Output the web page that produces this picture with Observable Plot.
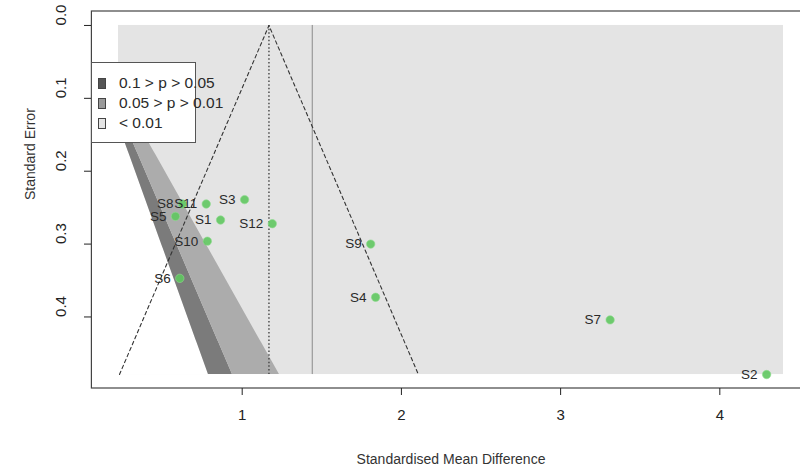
<!DOCTYPE html>
<html><head><meta charset="utf-8">
<script src="https://cdn.jsdelivr.net/npm/d3@7"></script>
<script src="https://cdn.jsdelivr.net/npm/@observablehq/plot@0.6"></script>
<style>
body{margin:0;background:#fff;font-family:"Liberation Sans",Arial,sans-serif;}
#wrap{position:relative;width:800px;height:467px;overflow:hidden;}
#legend{position:absolute;left:91px;top:62px;width:105px;height:81px;background:#fff;border:1px solid #555;box-sizing:border-box;font-size:15.5px;color:#2a2a2a;}
.row{position:absolute;left:6px;white-space:nowrap;line-height:18px;}
.sw{display:inline-block;width:6px;height:9px;border:1px solid #444;margin-right:13px;vertical-align:-1px;}
</style></head>
<body><div id="wrap"></div>
<script>
// Study data
const studies = ["S1","S2","S3","S4","S5","S6","S7","S8","S9","S10","S11","S12"];
const smd     = [0.864, 4.294, 1.015, 1.838, 0.581, 0.608, 3.311, 0.625, 1.807, 0.781, 0.774, 1.189];
const se      = [0.267, 0.479, 0.239, 0.373, 0.262, 0.347, 0.404, 0.245, 0.300, 0.296, 0.245, 0.272];

const xTicks = [1, 2, 3, 4];
const yTicks = [0, 0.1, 0.2, 0.3, 0.4];
const legendLabels = ["0.1 > p > 0.05", "0.05 > p > 0.01", "< 0.01"];
const contourZ = [1.645, 1.96, 2.576];           // p = 0.10, 0.05, 0.01
const shadeColors = ["#7b7b7b", "#acacac", "#e4e4e4"];
const pooledEstimate = 1.168;
const secondLine = 1.44;
const xLimits = [0.223, 4.40];

const seMax = d3.max(se);
const rx = xLimits[1] - xLimits[0];
const xDom = [xLimits[0] - 0.04 * rx, xLimits[1] + 0.04 * rx];
const yDom = [-0.04 * seMax, seMax * 1.04];

const data = studies.map((s, i) => ({study: s, smd: smd[i], se: se[i]}));
const seSamples = d3.range(0, 101).map(t => t / 100 * seMax);
const clampX = v => Math.max(xLimits[0], Math.min(xLimits[1], v));

const funnel = [
  {x: pooledEstimate - 1.96 * seMax, y: seMax},
  {x: pooledEstimate, y: 0},
  {x: pooledEstimate + 1.96 * seMax, y: seMax}
];

const chart = Plot.plot({
  width: 800, height: 467,
  marginLeft: 91, marginTop: 11, marginBottom: 79, marginRight: 0,
  style: {fontFamily: "Liberation Sans, Arial, sans-serif", fontSize: "15px", color: "#222", background: "#fff"},
  x: {domain: xDom, range: [91.4, 809.6]},
  y: {domain: yDom, range: [11, 388]},
  marks: [
    // background (p < 0.01 region)
    Plot.rect([0], {x1: xLimits[0], x2: xLimits[1], y1: 0, y2: seMax, fill: shadeColors[2]}),
    // non-significant region (white)
    Plot.areaX(seSamples, {y: d => d, x1: xLimits[0], x2: d => clampX(contourZ[0] * d), fill: "#fff"}),
    Plot.areaX(seSamples, {y: d => d, x1: d => clampX(contourZ[0] * d), x2: d => clampX(contourZ[1] * d), fill: shadeColors[0]}),
    Plot.areaX(seSamples, {y: d => d, x1: d => clampX(contourZ[1] * d), x2: d => clampX(contourZ[2] * d), fill: shadeColors[1]}),
    // second reference line
    Plot.ruleX([secondLine], {y1: 0, y2: seMax, stroke: "#8a8a8a", strokeWidth: 1}),
    // pooled estimate dotted line
    Plot.ruleX([pooledEstimate], {y1: 0, y2: seMax, stroke: "#444", strokeWidth: 1.4, strokeDasharray: "1.5,2.2"}),
    // pseudo-confidence funnel
    Plot.line(funnel, {x: "x", y: "y", stroke: "#333", strokeWidth: 1.1, strokeDasharray: "3.5,3"}),
    // box
    Plot.rect([0], {x1: xDom[0], x2: xDom[1], y1: yDom[0], y2: yDom[1], fill: "none", stroke: "#444", strokeWidth: 1.2}),
    // studies
    Plot.dot(data, {x: "smd", y: "se", r: 4.2, fill: "#5fc75f", fillOpacity: 0.9, stroke: "#8fdc8f", strokeWidth: 1, strokeOpacity: 0.6}),
    Plot.text(data, {x: "smd", y: "se", text: "study", textAnchor: "end", dx: -9, fontSize: 13.5, fill: "#2a2a2a"}),
    // axes
    Plot.axisX({ticks: xTicks, tickSize: 7, tickPadding: 14, tickFormat: d3.format("d"), label: null, fontSize: 15}),
    Plot.axisY({ticks: yTicks, tickSize: 7, tickFormat: () => "", label: null}),
    Plot.text(yTicks, {y: d => d, text: d => d.toFixed(1), frameAnchor: "left", dx: -30, rotate: -90, fontSize: 15, fill: "#222"}),
    Plot.text(["Standard Error"], {text: d => d, frameAnchor: "left", dx: -61, rotate: -90, fontSize: 14, fill: "#333"}),
    Plot.text(["Standardised Mean Difference"], {text: d => d, frameAnchor: "bottom", dx: 5, dy: 75, fontSize: 14, fill: "#333"})
  ]
});

const wrap = document.getElementById("wrap");
wrap.appendChild(chart);

const legend = document.createElement("div");
legend.id = "legend";
const legendTops = [11, 31, 51];
legendLabels.forEach((lab, i) => {
  const row = document.createElement("div");
  row.className = "row";
  row.style.top = legendTops[i] + "px";
  const sw = document.createElement("span");
  sw.className = "sw";
  sw.style.background = i === 0 ? "#555" : i === 1 ? "#9a9a9a" : "#e4e4e4";
  row.appendChild(sw);
  row.appendChild(document.createTextNode(lab));
  legend.appendChild(row);
});
wrap.appendChild(legend);
</script>
</body></html>
